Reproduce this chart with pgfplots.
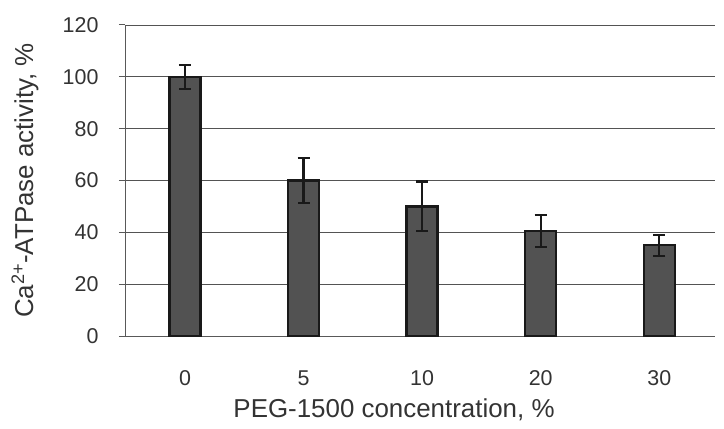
\documentclass[border=0pt]{standalone}
\usepackage{pgfplots}
\pgfplotsset{compat=1.18}
\usepackage{fontspec}
\setmainfont{Liberation Sans}
\definecolor{barfill}{HTML}{525252}
\definecolor{txt}{HTML}{333333}
\begin{document}
\begin{tikzpicture}
\useasboundingbox (-125bp,-93bp) rectangle (599bp,336bp);
\begin{axis}[
  scale only axis, width=590bp, height=311bp,
  at={(0,0)}, anchor=south west,
  ymin=0, ymax=120, ytick={0,20,...,120},
  xmin=-0.506, xmax=4.47, xtick={0,1,2,3,4}, xticklabels={0,5,10,20,30},
  axis x line*=bottom, axis y line*=left,
  axis line style={draw=gray!70!black, line width=1pt},
  ymajorgrids, grid style={draw=gray!65!black, line width=0.8pt},
  major x tick style={draw=none},
  major y tick style={draw=gray!70!black, line width=1pt},
  tick align=outside, major tick length=6bp,
  /pgf/number format/assume math mode=true,
  tick label style={font=\fontsize{21.5}{24}\selectfont, text=txt},
  xticklabel style={yshift=-25bp},
  yticklabel style={xshift=-17bp},
  label style={font=\fontsize{26}{30}\selectfont, text=txt},
  xlabel={PEG-1500 concentration, \%},
  xlabel style={at={([yshift=-74bp]axis description cs:0.456,0)}, anchor=center},
  ylabel={Ca\textsuperscript{2+}-ATPase activity, \%},
  ylabel style={at={([xshift=-100bp]axis description cs:0,0.5)}, anchor=center},
]
\addplot[ybar, bar width=31bp, fill=barfill, draw=black!90, line width=2.4pt,
  error bars/.cd, y dir=both, y explicit,
  error bar style={line width=2.2pt, black!90},
  error mark options={rotate=90, mark size=6bp, line width=2.2pt, black!90}]
  table[x=x, y=y, y error=e] {
x y e
0 100 4.6
1 60 8.7
2 50 9.6
3 40.5 6.3
4 35 4.0
};
\end{axis}
\end{tikzpicture}
\end{document}
